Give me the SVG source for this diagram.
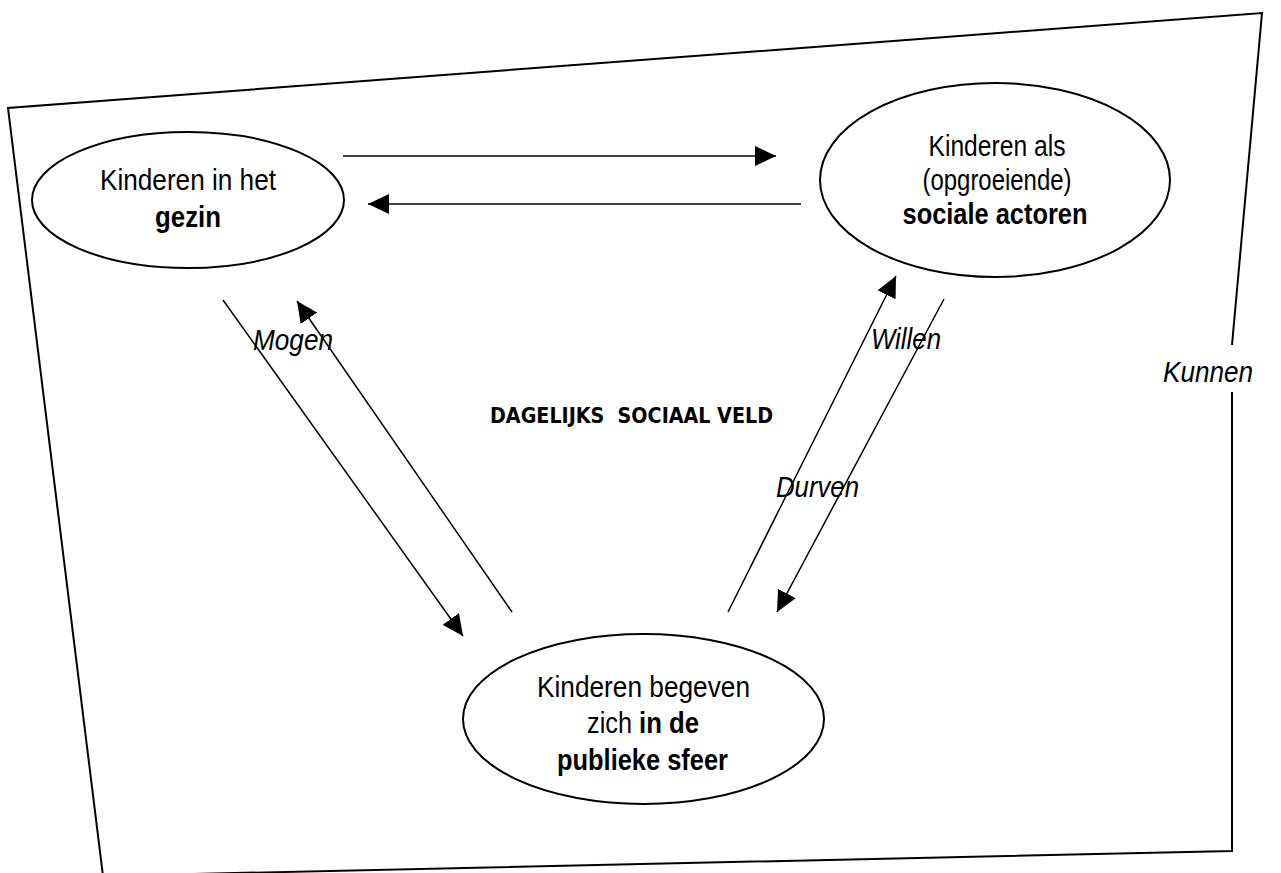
<svg xmlns="http://www.w3.org/2000/svg" width="1281" height="873" viewBox="0 0 1281 873">
  <style>
    .frame { fill: none; stroke: #000; stroke-width: 2; }
    .node { fill: #fff; stroke: #000; stroke-width: 2; }
    .conn { fill: none; stroke: #000; stroke-width: 1.5; marker-end: url(#arrow); }
    .t { font-family: "Liberation Sans Narrow", "Liberation Sans", Arial, sans-serif; font-size: 29px; fill: #000; text-anchor: middle; }
    .s { text-anchor: start; }
    .b { font-weight: bold; }
    .lbl { font-family: "Liberation Sans Narrow", "Liberation Sans", Arial, sans-serif; font-size: 30px; font-style: italic; fill: #000; }
    .field { font-family: "DejaVu Sans Condensed", "DejaVu Sans", "Liberation Sans", sans-serif; font-size: 22px; font-weight: bold; fill: #000; }
  </style>
  <defs>
    <marker id="arrow" markerUnits="userSpaceOnUse" markerWidth="21" markerHeight="20" viewBox="0 0 21 20" refX="21" refY="10" orient="auto">
      <path d="M0,0 L21,10 L0,20 Z" fill="#000"/>
    </marker>
  </defs>
  <rect width="1281" height="873" fill="#fff"/>

  <g id="frame">
    <path class="frame" d="M1232,345 L1262,13 L8,108 L103,876 L1232,851 L1232,392"/>
    <text class="lbl" x="1163" y="382" textLength="90" lengthAdjust="spacingAndGlyphs">Kunnen</text>
  </g>

  <g id="connectors">
    <path class="conn" d="M343,156 L776,156"/>
    <path class="conn" d="M801,204 L368,204"/>
    <path class="conn" d="M223,300 L463,636"/>
    <path class="conn" d="M512,612 L297,301"/>
    <path class="conn" d="M728,612 L896,276"/>
    <path class="conn" d="M944,299 L777,612"/>
    <text class="lbl" x="253" y="350" textLength="80" lengthAdjust="spacingAndGlyphs">Mogen</text>
    <text class="lbl" x="871" y="349" textLength="70" lengthAdjust="spacingAndGlyphs">Willen</text>
    <text class="lbl" x="776" y="497" textLength="83" lengthAdjust="spacingAndGlyphs">Durven</text>
  </g>

  <g id="field-label">
    <text class="field" x="490" y="423" textLength="283" lengthAdjust="spacingAndGlyphs" xml:space="preserve">DAGELIJKS  SOCIAAL VELD</text>
  </g>

  <g id="node-gezin">
    <ellipse class="node" cx="188" cy="200" rx="156" ry="68"/>
    <text class="t" x="188" y="190" textLength="176" lengthAdjust="spacingAndGlyphs">Kinderen in het</text>
    <text class="t b" x="188" y="227" textLength="66" lengthAdjust="spacingAndGlyphs">gezin</text>
  </g>

  <g id="node-actoren">
    <ellipse class="node" cx="995" cy="180" rx="175" ry="97"/>
    <text class="t" x="997" y="156" textLength="137" lengthAdjust="spacingAndGlyphs">Kinderen als</text>
    <text class="t" x="997" y="190" textLength="149" lengthAdjust="spacingAndGlyphs">(opgroeiende)</text>
    <text class="t b" x="995" y="224" textLength="185" lengthAdjust="spacingAndGlyphs">sociale actoren</text>
  </g>

  <g id="node-sfeer">
    <ellipse class="node" cx="643.5" cy="719" rx="180.5" ry="85"/>
    <text class="t" x="643.5" y="697" textLength="213" lengthAdjust="spacingAndGlyphs">Kinderen begeven</text>
    <text class="t s" x="587" y="733" textLength="45" lengthAdjust="spacingAndGlyphs">zich</text>
    <text class="t s b" x="639" y="733" textLength="60" lengthAdjust="spacingAndGlyphs">in de</text>
    <text class="t b" x="642.5" y="770" textLength="171" lengthAdjust="spacingAndGlyphs">publieke sfeer</text>
  </g>
</svg>
